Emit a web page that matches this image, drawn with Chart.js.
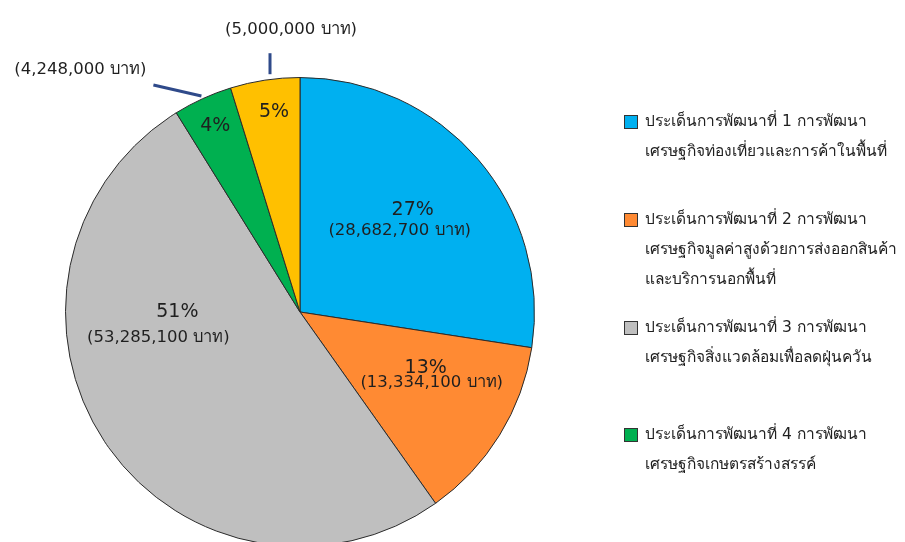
<!DOCTYPE html>
<html>
<head>
<meta charset="utf-8">
<script src="https://cdn.jsdelivr.net/npm/chart.js@4.4.1/dist/chart.umd.min.js"></script>
<style>
  html, body { margin: 0; padding: 0; background: #fff; overflow: hidden; }
  #wrap { position: relative; width: 905px; height: 560px; }
</style>
</head>
<body>
<div id="wrap"><canvas id="chart"></canvas></div>
<script>
// ข้อมูลงบประมาณแยกตามประเด็นการพัฒนา
const categories = [
  ['ประเด็นการพัฒนาที่ 1 การพัฒนา', 'เศรษฐกิจท่องเที่ยวและการค้าในพื้นที่'],
  ['ประเด็นการพัฒนาที่ 2 การพัฒนา', 'เศรษฐกิจมูลค่าสูงด้วยการส่งออกสินค้า', 'และบริการนอกพื้นที่'],
  ['ประเด็นการพัฒนาที่ 3 การพัฒนา', 'เศรษฐกิจสิ่งแวดล้อมเพื่อลดฝุ่นควัน'],
  ['ประเด็นการพัฒนาที่ 4 การพัฒนา', 'เศรษฐกิจเกษตรสร้างสรรค์'],
  ['อื่น ๆ']
];
const values = [28682700, 13334100, 53285100, 4248000, 5000000];
const percentLabels = ['27%', '13%', '51%', '4%', '5%'];
const colors = ['#00B0F0', '#FF8A33', '#BFBFBF', '#00B050', '#FFC000'];

const FONT = '"DejaVu Sans", Tahoma, sans-serif';

function fmt(v) {
  return '(' + v.toLocaleString('en-US') + ' บาท)';
}

// ตำแหน่งป้าย: สัดส่วนรัศมี, การเลื่อนมุม (องศา), ระยะป้ายมูลค่าจากป้ายเปอร์เซ็นต์
const labelPlace = [
  { f: 0.647, da: -1.4, vdx: -13, vdy: 20 },
  { f: 0.587, da: -7.7, vdx: 6, vdy: 15 },
  { f: 0.523, da: 33.5, vdx: -19, vdy: 26 },
  { f: 0.87, da: 0, outside: true },
  { f: 0.86, da: 1.2, outside: true }
];

const sliceLabels = {
  id: 'sliceLabels',
  afterDatasetsDraw(chart) {
    const ctx = chart.ctx;
    const meta = chart.getDatasetMeta(0);
    ctx.save();
    ctx.textAlign = 'center';
    ctx.textBaseline = 'middle';
    meta.data.forEach((arc, i) => {
      const p = labelPlace[i];
      const mid = (arc.startAngle + arc.endAngle) / 2 + p.da * Math.PI / 180;
      const r = arc.outerRadius * p.f;
      const x = arc.x + Math.cos(mid) * r;
      const y = arc.y + Math.sin(mid) * r;
      ctx.fillStyle = '#1f1f1f';
      ctx.font = '19px ' + FONT;
      ctx.fillText(percentLabels[i], x, y);
      ctx.font = '16.5px ' + FONT;
      if (!p.outside) {
        ctx.fillText(fmt(values[i]), x + p.vdx, y + p.vdy);
      } else {
        // ป้ายมูลค่าภายนอกพร้อมเส้นชี้
        const a = (arc.startAngle + arc.endAngle) / 2;
        let sx, sy, ex, ey, tx, ty;
        if (i === 3) {
          sx = arc.x + Math.cos(a) * (arc.outerRadius + 3);
          sy = arc.y + Math.sin(a) * (arc.outerRadius + 3);
          ex = sx - 48; ey = sy - 11;
          tx = sx - 121; ty = sy - 26;
        } else {
          sx = arc.x + Math.cos(a) * (arc.outerRadius + 6) + 6;
          sy = arc.y + Math.sin(a) * (arc.outerRadius + 6);
          ex = sx; ey = sy - 21;
          tx = sx + 21; ty = sy - 44;
        }
        ctx.strokeStyle = '#2F4A8A';
        ctx.lineWidth = 3;
        ctx.beginPath();
        ctx.moveTo(sx, sy);
        ctx.lineTo(ex, ey);
        ctx.stroke();
        ctx.fillText(fmt(values[i]), tx, ty);
      }
    });
    ctx.restore();
  }
};

// legend ด้านขวา (4 รายการแรก)
const legendTop = [122, 220, 328, 435];
const sideLegend = {
  id: 'sideLegend',
  afterDraw(chart) {
    const ctx = chart.ctx;
    ctx.save();
    ctx.textBaseline = 'middle';
    ctx.textAlign = 'left';
    ctx.font = '15.5px ' + FONT;
    for (let i = 0; i < 4; i++) {
      const y0 = legendTop[i];
      ctx.fillStyle = colors[i];
      ctx.fillRect(624, y0 - 7, 14, 14);
      ctx.strokeStyle = '#333';
      ctx.lineWidth = 1;
      ctx.strokeRect(624.5, y0 - 6.5, 13, 13);
      ctx.fillStyle = '#1f1f1f';
      categories[i].forEach((line, j) => {
        ctx.fillText(line, 645, y0 + j * 30);
      });
    }
    ctx.restore();
  }
};

new Chart(document.getElementById('chart'), {
  type: 'pie',
  data: {
    labels: categories.map(c => c.join(' ')),
    datasets: [{
      data: values,
      backgroundColor: colors,
      borderColor: '#2b2b2b',
      borderWidth: 1
    }]
  },
  options: {
    responsive: true,
    maintainAspectRatio: false,
    animation: false,
    layout: { padding: { top: 77, bottom: 13, left: 65, right: 370 } },
    plugins: {
      legend: { display: false },
      tooltip: { enabled: false }
    }
  },
  plugins: [sliceLabels, sideLegend]
});
</script>
</body>
</html>
